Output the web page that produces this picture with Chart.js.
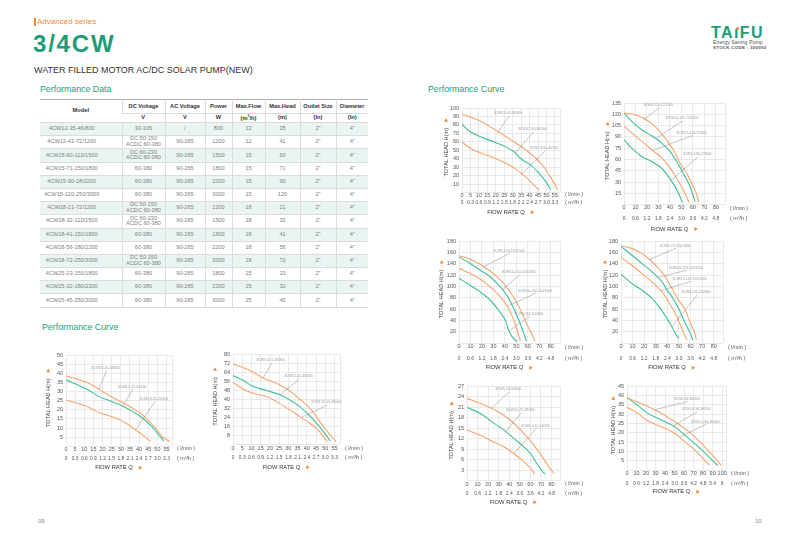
<!DOCTYPE html>
<html lang="en">
<head>
<meta charset="UTF-8">
<title>3/4CW</title>
<script src="https://cdn.jsdelivr.net/npm/chart.js@4.4.0/dist/chart.umd.min.js"></script>
<style>
    * { margin: 0; padding: 0; box-sizing: border-box; font-family: 'Liberation Sans', Arial, sans-serif; }
    body { width: 800px; height: 547px; background: #fff; position: relative; overflow: hidden; }
    .abs { position: absolute; white-space: nowrap; line-height: 1; }
    .sec { font-size: 8.8px; color: #22a07c; }
    #spec { position: absolute; left: 40px; top: 99px; width: 328px; border-collapse: collapse; table-layout: fixed; border-top: 1px solid #aaa; }
    #spec th, #spec td { text-align: center; vertical-align: middle; border-left: 1px solid #dcdcdc; border-bottom: 1px solid #dcdcdc; padding: 0; white-space: nowrap; }
    #spec th:first-child, #spec td:first-child { border-left: none; }
    #spec td:first-child { padding-right: 18px; }
    #spec th { font-size: 5.7px; color: #333; font-weight: bold; line-height: 1; }
    #spec td { font-size: 5.6px; color: #808080; height: 13.2px; line-height: 5.9px; }
    #spec tbody tr:nth-child(odd) td { background: #eaf4f2; }
    .chartbox { position: absolute; }
</style>
</head>
<body>
<div class="abs" style="left:34px;top:18px;width:2px;height:8px;background:#f0883a"></div>
<div class="abs" style="left:37px;top:18px;font-size:8px;color:#f0883a">Advanced series</div>
<div class="abs" style="left:33px;top:32px;font-size:24px;font-weight:bold;color:#1b9e77;letter-spacing:1.8px">3/4CW</div>
<div class="abs" style="left:34px;top:66px;font-size:9px;color:#333">WATER FILLED MOTOR AC/DC SOLAR PUMP(NEW)</div>

<div class="abs" style="left:711px;top:25px;font-size:16px;font-weight:bold;color:#1b9e77;letter-spacing:1.4px">TA&#305;FU</div>
<div class="abs" style="left:736px;top:26.5px;width:3px;height:3px;border-radius:50%;background:#f0883a"></div>
<div class="abs" style="left:713px;top:39.5px;font-size:5.3px;color:#555">Energy Saving Pump</div>
<div class="abs" style="left:713px;top:46px;font-size:4.4px;font-weight:bold;color:#555;letter-spacing:0.3px">STOCK CODE : 300992</div>

<div class="abs sec" style="left:40px;top:85px">Performance Data</div>
<div class="abs sec" style="left:428px;top:85px">Performance Curve</div>
<div class="abs sec" style="left:42px;top:323px">Performance Curve</div>

<table id="spec">
    <colgroup>
        <col style="width:82px"><col style="width:43px"><col style="width:40px"><col style="width:27px">
        <col style="width:33px"><col style="width:35px"><col style="width:36px"><col style="width:32px">
    </colgroup>
    <thead>
        <tr style="height:14px">
            <th rowspan="2">Model</th><th>DC Voltage</th><th>AC Voltage</th><th>Power</th>
            <th>Max.Flow</th><th>Max.Head</th><th>Outlet Size</th><th>Diameter</th>
        </tr>
        <tr style="height:9px">
            <th>V</th><th>V</th><th>W</th><th>(m<sup style="font-size:3.5px">3</sup>/h)</th><th>(m)</th><th>(In)</th><th>(In)</th>
        </tr>
    </thead>
    <tbody id="specBody"></tbody>
</table>

<div class="abs" style="left:38px;top:518px;font-size:6px;color:#888">09</div>
<div class="abs" style="left:755px;top:518px;font-size:6px;color:#888">10</div>

<script>
// ---- spec table ----
const models = ['4CW12-35-46/800', '4CW12-41-72/1200', '4CW15-60-110/1500', '4CW15-71-150/1800', '4CW15-90-18/2200',
    '4CW15-120-250/3000', '4CW18-21-72/1200', '4CW18-32-110/1500', '4CW18-41-150/1800', '4CW18-56-180/2200',
    '4CW18-72-250/3000', '4CW25-23-150/1800', '4CW25-32-180/2200', '4CW25-45-250/3000']
const dcVolt = ['30-105', 'DC 50-150|ACDC 60-380', 'DC 60-230|ACDC 60-380', '60-380', '60-380', '60-380',
    'DC 50-150|ACDC 60-380', 'DC 60-230|ACDC 60-380', '60-380', '60-380', 'DC 50-150|ACDC 60-380', '60-380', '60-380', '60-380']
const acVolt = ['/', '90-265', '90-265', '90-265', '90-265', '90-265', '90-265', '90-265', '90-265', '90-265', '90-265', '90-265', '90-265', '90-265']
const power = [800, 1200, 1500, 1800, 2200, 3000, 1200, 1500, 1800, 2200, 3000, 1800, 2200, 3000]
const maxFlow = [12, 12, 15, 15, 15, 15, 18, 18, 18, 18, 18, 25, 25, 25]
const maxHead = [35, 41, 60, 71, 90, 120, 21, 32, 41, 56, 72, 23, 32, 45]

const body = document.getElementById('specBody')
models.forEach((m, i) => {
    const tr = document.createElement('tr')
    const cells = [m, dcVolt[i].replace('|', '<br>'), acVolt[i], power[i], maxFlow[i], maxHead[i], '2"', '4"']
    tr.innerHTML = cells.map(c => '<td>' + c + '</td>').join('')
    body.appendChild(tr)
})

// ---- tick labels ----
const flow55 = [0, 5, 10, 15, 20, 25, 30, 35, 40, 45, 50, 55]
const m3h55 = ['0', '0.3', '0.6', '0.9', '1.2', '1.5', '1.8', '2.1', '2.4', '2.7', '3.0', '3.3']
const flow80 = [0, 10, 20, 30, 40, 50, 60, 70, 80]
const m3h80 = ['0', '0.6', '1.2', '1.8', '2.4', '3.0', '3.6', '4.2', '4.8']
const flow100 = [0, 10, 20, 30, 40, 50, 60, 70, 80, 90, 100]
const m3h100 = ['0', '0.6', '1.2', '1.8', '2.4', '3.0', '3.6', '4.2', '4.8', '5.4', '6']
const head50 = [5, 10, 15, 20, 25, 30, 35, 40, 45, 50]
const head80 = [8, 16, 24, 32, 40, 48, 56, 64, 72, 80]
const head100 = [10, 20, 30, 40, 50, 60, 70, 80, 90, 100]
const head135 = [15, 30, 45, 60, 75, 90, 105, 120, 135]
const head180 = [20, 40, 60, 80, 100, 120, 140, 160, 180]
const head27 = [3, 6, 9, 12, 15, 18, 21, 24, 27]
const head45 = [5, 10, 15, 20, 25, 30, 35, 40, 45]

// ---- curves: flow (l/min) and head (m) ----
const c1aQ = [0, 11.5, 18, 24, 31.6, 40.8, 49, 52.6, 56.8]
const c1aH = [38.6, 35, 31.3, 27.6, 23.6, 18, 10, 5.3, 2.6]
const c1bQ = [0, 11.5, 18, 24, 31.6, 40.8, 47, 50.8, 53.6]
const c1bH = [36.4, 31.3, 27.2, 24.9, 21.8, 16.3, 10.8, 6.2, 2.9]
const c1cQ = [0, 11.5, 18, 24, 31.6, 38, 42.6, 46.3]
const c1cH = [25.4, 21.8, 18.5, 16.6, 13.5, 9, 5.7, 2.6]

const c2aQ = [0, 9.2, 16.4, 23.6, 29.9, 36.2, 42.5, 47, 50.6, 53.3, 56]
const c2aH = [71.4, 65.5, 58.7, 54.3, 48.4, 40.1, 30.7, 20.4, 13, 7.1, 2.7]
const c2bQ = [0, 5.6, 11, 18.2, 25.4, 30.8, 36.2, 41.6, 46.1, 49.7, 52.8]
const c2bH = [61, 56.6, 51.3, 47.8, 44, 39.5, 33.6, 25.4, 17.4, 10, 3.2]
const c2cQ = [0, 5.6, 11, 18.2, 23.6, 30.8, 36.2, 41.6, 46.1, 49.7, 51.2]
const c2cH = [54.9, 49, 45.4, 42.5, 38, 30.7, 24.8, 18.9, 13, 5.6, 2.7]

const c3aQ = [0, 8.9, 16.9, 24.8, 30.8, 36.7, 42.7, 47.6, 51.6, 54.6, 56.5]
const c3aH = [92.6, 86.3, 77.6, 67.8, 59.9, 52, 42.3, 32.4, 20.6, 10.8, 2.9]
const c3bQ = [0, 5, 10.9, 18.8, 25.8, 30.8, 34.7, 40.7, 45.6, 49.6, 52.6]
const c3bH = [80.5, 71.8, 65.9, 60, 54, 48.2, 40.3, 32.4, 22.6, 12.8, 2.9]
const c3cQ = [0, 5, 10.9, 18.8, 26.8, 32.7, 38.7, 42.7, 45.6]
const c3cH = [60, 52, 47, 41, 33.6, 26.5, 16.7, 8.8, 2.9]

const c4aQ = [0, 9.6, 18.3, 27, 35.8, 43, 48.8, 54.7, 59, 62.8, 65.4]
const c4aH = [121.7, 119.4, 113.7, 103.9, 88.3, 72.8, 55, 41.7, 28.3, 15, 2.6]
const c4bQ = [0, 6.7, 15.4, 24.1, 32.8, 40.1, 45.9, 51.7, 57.6, 61.9]
const c4bH = [121.7, 110.6, 99.4, 91.4, 81.7, 70.6, 57.2, 41.7, 23.9, 3.9]
const c4cQ = [0, 6.7, 15.4, 24.1, 32.8, 40.1, 45.9, 51.7, 56.7]
const c4cH = [104.3, 95.4, 84.3, 73.2, 62, 48.8, 35, 19.4, 2.6]
const c4dQ = [0, 6.7, 15.4, 24.1, 32.8, 38.7, 44.5, 48.8, 50.9]
const c4dH = [86.1, 75, 63.9, 57.2, 48.3, 37.2, 23.9, 10.6, 2.6]

const c5aQ = [0, 9.4, 18.2, 27.1, 35.9, 43.2, 49.1, 55, 59.4, 63.8, 66.2]
const c5aH = [154.1, 148.2, 138.8, 127, 111.2, 93.5, 75.9, 52.4, 31.8, 14.1, 3.5]
const c5bQ = [0, 9.4, 18.2, 27.1, 35.9, 42.4, 47.6, 52.1, 55.9, 58.8]
const c5bH = [151.8, 140.6, 128.8, 117, 99.4, 81.8, 61.2, 40.6, 20, 3.5]
const c5cQ = [0, 9.4, 18.2, 27.1, 35.9, 42.4, 47.1, 50.6, 53.5]
const c5cH = [131.8, 122.9, 112.9, 99.4, 81.8, 64.1, 43.5, 22.9, 3.5]
const c5dQ = [0, 9.4, 18.2, 27.1, 34.4, 40.3, 43.2, 46.2, 50.6]
const c5dH = [114.1, 102.4, 90.6, 75.9, 58.2, 40.6, 22.9, 11.2, 2.4]

const c6aQ = [0, 9.2, 17.9, 25.1, 32.4, 38.2, 43.9, 49.7, 55.5, 59.8, 63.3, 65]
const c6aH = [171.2, 167, 158.2, 146.5, 131.8, 117, 96.5, 75.9, 58.2, 34.7, 20, 5.3]
const c6bQ = [0, 9.2, 17.9, 26.6, 35.3, 39.6, 43.9, 49.7, 55.5, 59.8, 62.1]
const c6bH = [170, 155.3, 140.6, 125.9, 108.2, 93.5, 81.8, 61.2, 34.7, 17, 5.3]
const c6cQ = [0, 9.2, 17.9, 26.6, 35.3, 41, 46.8, 51.2, 54.9, 56.9]
const c6cH = [150.6, 137.6, 122.9, 108.2, 90.6, 72.9, 52.4, 31.8, 14.1, 5.3]
const c6dQ = [0, 9.2, 17.9, 26.6, 33.8, 39.6, 43.9, 46.8, 49.7]
const c6dH = [121.2, 105.3, 93.5, 78.8, 61.2, 43.5, 28.8, 17, 8.2]

const c7aQ = [0, 12.7, 23.7, 34.8, 44.3, 53.8, 63.3, 71.2, 77.5, 82.3]
const c7aH = [23.5, 22, 20.6, 18.7, 16.4, 13.5, 10.2, 6.9, 4, 2.1]
const c7bQ = [0, 12.7, 23.7, 34.8, 44.3, 53.8, 60.1, 64.9, 70.3, 73.7]
const c7bH = [20.9, 19.2, 16.8, 14.5, 12.1, 9.7, 7.8, 5.5, 3.1, 1.9]
const c7cQ = [0, 12.7, 23.7, 34.8, 44.3, 53.8, 60.1, 63.9]
const c7cH = [14.5, 13, 11.3, 9.7, 7.8, 5.5, 3.6, 2]

const c8aQ = [0, 11.5, 22, 36, 50, 60.5, 71, 81.5, 91.9, 99]
const c8aH = [38.8, 36.3, 34, 30.4, 26, 22.4, 18, 12.6, 6.8, 2.8]
const c8bQ = [0, 11.5, 22, 36, 50, 60.5, 71, 81.5, 90.2, 95.5]
const c8bH = [38.8, 34.5, 30.4, 26.9, 23.3, 18.9, 14.4, 9.4, 5, 2.5]
const c8cQ = [0, 11.5, 22, 36, 50, 60.5, 71, 79.7, 86.7]
const c8cH = [33.6, 30.4, 26.3, 23.3, 19.8, 15.3, 10.9, 6.4, 2.8]

const ORANGE = '#f5a56c'
const TEAL = '#3cbf9b'

// box = plot area on the page, r1/r2 = tick rows, tt = axis title row, ytx = y title column
const charts = [
    { box: { pl: 65.7, pr: 171.7, pt: 355, pb: 446.3, r1: 449, r2: 458.3, tt: 467.7, ytx: 48.3 },
      xmax: 58, ymax: 50, flow: flow55, m3: m3h55, head: head50,
      lines: [[c1aQ, c1aH, ORANGE], [c1bQ, c1bH, TEAL], [c1cQ, c1cH, ORANGE]],
      notes: [['3CW3.5-40-24/800', 21.6, 42.8, 18, 31.3], ['3CW3.2-37-24/500', 36.2, 32.7, 31, 22.2], ['3CW2.8-25-24/300', 48.1, 25.8, 38, 9]] },
    { box: { pl: 233, pr: 340, pt: 354.3, pb: 444.7, r1: 448.3, r2: 457.3, tt: 467.3, ytx: 215 },
      xmax: 58, ymax: 80, flow: flow55, m3: m3h55, head: head80,
      lines: [[c2aQ, c2aH, ORANGE], [c2bQ, c2bH, TEAL], [c2cQ, c2cH, ORANGE]],
      notes: [['3CW3.5-72-36/800', 20.4, 74.3, 16.4, 58.7], ['3CW3.2-65-36/500', 35.5, 60.2, 25.4, 44], ['3CW2.55-55-36/400', 50.6, 37.2, 37, 24]] },
    { box: { pl: 461.7, pr: 559.3, pt: 107.7, pb: 192.5, r1: 195, r2: 202.7, tt: 212.3, ytx: 446 },
      xmax: 58, ymax: 100, flow: flow55, m3: m3h55, head: head100,
      lines: [[c3aQ, c3aH, ORANGE], [c3bQ, c3bH, TEAL], [c3cQ, c3cH, ORANGE]],
      notes: [['3CW3.5-93-46/800', 27.2, 93.5, 21.5, 72], ['3CW3.2-80-46/500', 41.7, 74.6, 31.5, 47], ['3CW2.8-60-46/400', 48.6, 52, 35, 21]] },
    { box: { pl: 624, pr: 725, pt: 103.3, pb: 204.6, r1: 208.3, r2: 218.3, tt: 229, ytx: 607.7 },
      xmax: 88, ymax: 135, flow: flow80, m3: m3h80, head: head135,
      lines: [[c4aQ, c4aH, ORANGE], [c4bQ, c4bH, TEAL], [c4cQ, c4cH, ORANGE], [c4dQ, c4dH, TEAL]],
      notes: [['3CW4-120-72/1200', 29.9, 131.9, 17, 113], ['3CW3.8-120-72/1000', 50.6, 115, 28, 88], ['3CW3.5-105-72/800', 59, 95, 25, 72], ['3CW3.3-85-72/600', 63.7, 67, 41, 32]] },
    { box: { pl: 459.3, pr: 560, pt: 241, pb: 343, r1: 347.7, r2: 359, tt: 367.7, ytx: 441.7 },
      xmax: 88, ymax: 180, flow: flow80, m3: m3h80, head: head180,
      lines: [[c5aQ, c5aH, ORANGE], [c5bQ, c5bH, TEAL], [c5cQ, c5cH, ORANGE], [c5dQ, c5dH, TEAL]],
      notes: [['3CW4-150-110/1500', 43.5, 163, 21, 134], ['3CW3.5-150-110/1300', 52, 124.7, 38, 94], ['3CW3.0-132-110/1000', 66.2, 92.4, 42, 65], ['3CW3-114-110/800', 60.9, 51.2, 44, 22]] },
    { box: { pl: 621, pr: 722.7, pt: 241, pb: 343, r1: 347.7, r2: 359, tt: 367.7, ytx: 605 },
      xmax: 88, ymax: 180, flow: flow80, m3: m3h80, head: head180,
      lines: [[c6aQ, c6aH, ORANGE], [c6bQ, c6bH, TEAL], [c6cQ, c6cH, ORANGE], [c6dQ, c6dH, TEAL]],
      notes: [['3CW4-170-150/1800', 46.8, 171.8, 24.3, 147], ['3CW3.8-170-150/1500', 56, 133, 31, 115], ['3CW3.5-150-150/1200', 59.2, 113, 33.8, 92], ['3CW3-120-150/800', 65, 89.4, 44, 29]] },
    { box: { pl: 466.7, pr: 559.3, pt: 386, pb: 480.9, r1: 483.3, r2: 493.3, tt: 502.3, ytx: 451.7 },
      xmax: 88, ymax: 27, flow: flow80, m3: m3h80, head: head27,
      lines: [[c7aQ, c7aH, ORANGE], [c7bQ, c7bH, TEAL], [c7cQ, c7cH, ORANGE]],
      notes: [['3CW5-23-24/800', 38.9, 26, 23.1, 20.6], ['3CW4.5-22-28/300', 50.6, 20.2, 37, 14.1], ['3CW4.0-15-24/200', 64.9, 15.7, 44.3, 7.8]] },
    { box: { pl: 627.3, pr: 726.7, pt: 386, pb: 470.3, r1: 474, r2: 483.3, tt: 491.7, ytx: 613.3 },
      xmax: 104, ymax: 45, flow: flow100, m3: m3h100, head: head45,
      lines: [[c8aQ, c8aH, ORANGE], [c8bQ, c8bH, TEAL], [c8cQ, c8cH, ORANGE]],
      notes: [['3CW6-38-36/600', 62.9, 38.1, 28.3, 32.2], ['3CW5.8-38-36/500', 72.7, 32.6, 48.3, 23.5], ['3CW5.5-34-36/400', 82.2, 26, 55.2, 17.6]] }
]

const FONT = "'Liberation Sans', Arial, sans-serif"

// titles, units and model call-outs
const decor = {
    id: 'decor',
    afterDatasetsDraw(chart, args, o) {
        const { ctx, chartArea: a, scales } = chart
        ctx.save()

        // call-outs
        o.notes.forEach(n => {
            const lx = scales.x.getPixelForValue(n[1]), ly = scales.y.getPixelForValue(n[2])
            const px = scales.x.getPixelForValue(n[3]), py = scales.y.getPixelForValue(n[4])
            ctx.strokeStyle = '#8a8a8a'
            ctx.lineWidth = 0.5
            ctx.beginPath()
            ctx.moveTo(lx + 1, ly + 2.5)
            ctx.lineTo(px, py)
            ctx.stroke()
            ctx.font = '3.4px ' + FONT
            ctx.fillStyle = '#9a9a9a'
            ctx.textAlign = 'center'
            ctx.textBaseline = 'middle'
            ctx.fillText(n[0], lx, ly)
        })

        // y title
        ctx.font = '5.6px ' + FONT
        ctx.fillStyle = '#444'
        ctx.textAlign = 'center'
        ctx.textBaseline = 'middle'
        ctx.save()
        ctx.translate(o.ytx, (a.top + a.bottom) / 2 + 2)
        ctx.rotate(-Math.PI / 2)
        const yt = 'TOTAL HEAD H(m)'
        ctx.fillText(yt, 0, 0)
        const ex = ctx.measureText(yt).width / 2 + 8
        ctx.fillStyle = '#f08a3c'
        ctx.beginPath()
        ctx.moveTo(ex - 1.8, -2)
        ctx.lineTo(ex - 1.8, 2)
        ctx.lineTo(ex + 1.8, 0)
        ctx.fill()
        ctx.restore()

        // x title
        const xt = 'FlOW RATE Q'
        ctx.font = '5.8px ' + FONT
        const tw = ctx.measureText(xt).width
        const x0 = (a.left + a.right) / 2 - (tw + 10) / 2
        ctx.fillStyle = '#333'
        ctx.textAlign = 'left'
        ctx.fillText(xt, x0, o.tt)
        ctx.fillStyle = '#f08a3c'
        ctx.beginPath()
        ctx.moveTo(x0 + tw + 6, o.tt - 2)
        ctx.lineTo(x0 + tw + 6, o.tt + 2)
        ctx.lineTo(x0 + tw + 9.6, o.tt)
        ctx.fill()

        // units
        ctx.font = '5.4px ' + FONT
        ctx.fillStyle = '#555'
        ctx.fillText('( l/min )', a.right + 5, o.r1)
        ctx.fillText('( m\u00b3/h )', a.right + 5, o.r2)
        ctx.restore()
    }
}

function makeChart(c) {
    const b = c.box
    const left = Math.round(b.pl - 34), top = Math.round(b.pt - 8)
    const w = Math.round(b.pr - b.pl + 34 + 42), h = Math.round(b.tt + 7 - top)
    const h1 = b.r2 - b.pb - 3
    const h2 = h - (b.pb - top) - h1

    const box = document.createElement('div')
    box.className = 'chartbox'
    box.style.left = left + 'px'
    box.style.top = top + 'px'
    box.style.width = w + 'px'
    box.style.height = h + 'px'
    const canvas = document.createElement('canvas')
    canvas.width = w
    canvas.height = h
    canvas.style.width = w + 'px'
    canvas.style.height = h + 'px'
    box.appendChild(canvas)
    document.body.appendChild(box)

    const tickFont = { family: FONT, size: 5.5 }
    const smallFont = { family: FONT, size: 4.9 }
    const grid = { color: '#dcdcdc', lineWidth: 0.6, drawTicks: false }

    new Chart(canvas, {
        type: 'line',
        data: {
            datasets: c.lines.map(l => ({
                data: l[0].map((q, i) => ({ x: q, y: l[1][i] })),
                borderColor: l[2],
                borderWidth: 1.1,
                pointRadius: 0,
                tension: 0.35,
                fill: false
            }))
        },
        options: {
            responsive: false,
            animation: false,
            events: [],
            layout: { padding: { top: 8, right: 42, left: 0, bottom: 0 } },
            plugins: {
                legend: { display: false },
                tooltip: { enabled: false },
                decor: { notes: c.notes, ytx: b.ytx - left, tt: b.tt - top, r1: b.r1 - top, r2: b.r2 - top }
            },
            scales: {
                x: {
                    type: 'linear', position: 'bottom', weight: 0, min: 0, max: c.xmax,
                    grid: grid, border: { display: false },
                    ticks: { font: tickFont, color: '#555', padding: 0, autoSkip: false, maxRotation: 0,
                        callback: v => c.flow.includes(v) ? String(v) : '' },
                    afterBuildTicks: s => { s.ticks = c.flow.concat([c.xmax]).map(v => ({ value: v })) },
                    afterFit: s => { s.height = h1 }
                },
                x2: {
                    type: 'linear', position: 'bottom', weight: 1, min: 0, max: c.xmax * 0.06,
                    grid: { display: false, drawTicks: false }, border: { display: false },
                    ticks: { font: smallFont, color: '#555', padding: 0, autoSkip: false, maxRotation: 0,
                        callback: (v, i) => c.m3[i] !== undefined ? c.m3[i] : '' },
                    afterBuildTicks: s => { s.ticks = c.m3.map(t => ({ value: parseFloat(t) })) },
                    afterFit: s => { s.height = h2 }
                },
                y: {
                    type: 'linear', position: 'left', min: 0, max: c.ymax,
                    grid: grid, border: { display: false },
                    ticks: { font: tickFont, color: '#555', padding: 3, autoSkip: false,
                        callback: v => c.head.includes(v) ? String(v) : '' },
                    afterBuildTicks: s => { s.ticks = [0].concat(c.head).map(v => ({ value: v })) },
                    afterFit: s => { s.width = 34 }
                }
            }
        },
        plugins: [decor]
    })
}

charts.forEach(makeChart)
</script>
</body>
</html>
